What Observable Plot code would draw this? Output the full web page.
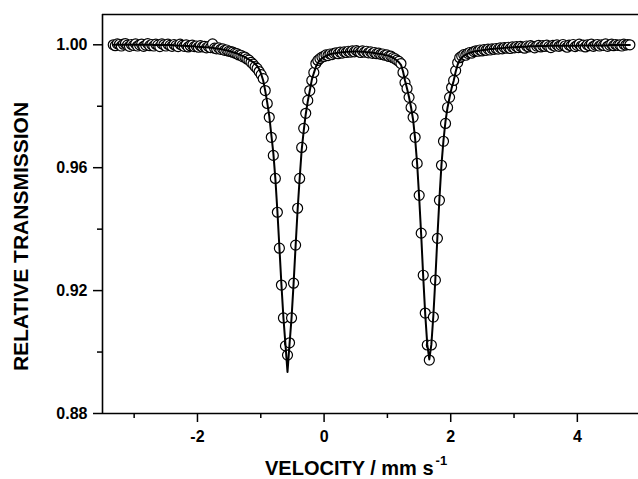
<!DOCTYPE html>
<html>
<head>
<meta charset="utf-8">
<script src="https://cdn.jsdelivr.net/npm/d3@7"></script>
<script src="https://cdn.jsdelivr.net/npm/@observablehq/plot@0.6"></script>
<style>
  html, body { margin: 0; padding: 0; background: #fff; overflow: hidden; }
  #chart { width: 638px; height: 479px; }
</style>
</head>
<body>
<div id="chart"></div>
<script>
// Velocity of each channel (mm/s)
const velocity = [
-3.330,-3.298,-3.266,-3.234,-3.202,-3.170,-3.138,-3.106,-3.074,-3.042,
-3.010,-2.978,-2.946,-2.914,-2.882,-2.850,-2.818,-2.786,-2.754,-2.722,
-2.690,-2.658,-2.626,-2.594,-2.562,-2.530,-2.498,-2.466,-2.434,-2.402,
-2.370,-2.338,-2.306,-2.274,-2.242,-2.210,-2.178,-2.146,-2.114,-2.082,
-2.050,-2.018,-1.986,-1.954,-1.922,-1.890,-1.858,-1.826,-1.794,-1.762,
-1.730,-1.698,-1.666,-1.634,-1.602,-1.570,-1.538,-1.506,-1.474,-1.442,
-1.410,-1.378,-1.346,-1.314,-1.282,-1.250,-1.218,-1.186,-1.154,-1.122,
-1.090,-1.058,-1.026,-0.994,-0.962,-0.930,-0.898,-0.866,-0.834,-0.802,
-0.770,-0.738,-0.706,-0.674,-0.642,-0.610,-0.578,-0.546,-0.514,-0.482,
-0.450,-0.418,-0.386,-0.354,-0.322,-0.290,-0.258,-0.226,-0.194,-0.162,
-0.130,-0.098,-0.066,-0.034,-0.002,0.030,0.062,0.094,0.126,0.158,
0.190,0.222,0.254,0.286,0.318,0.350,0.382,0.414,0.446,0.478,
0.510,0.542,0.574,0.606,0.638,0.670,0.702,0.734,0.766,0.798,
0.830,0.862,0.894,0.926,0.958,0.990,1.022,1.054,1.086,1.118,
1.150,1.182,1.214,1.246,1.278,1.310,1.342,1.374,1.406,1.438,
1.470,1.502,1.534,1.566,1.598,1.630,1.662,1.694,1.726,1.758,
1.790,1.822,1.854,1.886,1.918,1.950,1.982,2.014,2.046,2.078,
2.110,2.142,2.174,2.206,2.238,2.270,2.302,2.334,2.366,2.398,
2.430,2.462,2.494,2.526,2.558,2.590,2.622,2.654,2.686,2.718,
2.750,2.782,2.814,2.846,2.878,2.910,2.942,2.974,3.006,3.038,
3.070,3.102,3.134,3.166,3.198,3.230,3.262,3.294,3.326,3.358,
3.390,3.422,3.454,3.486,3.518,3.550,3.582,3.614,3.646,3.678,
3.710,3.742,3.774,3.806,3.838,3.870,3.902,3.934,3.966,3.998,
4.030,4.062,4.094,4.126,4.158,4.190,4.222,4.254,4.286,4.318,
4.350,4.382,4.414,4.446,4.478,4.510,4.542,4.574,4.606,4.638,
4.670,4.702,4.734,4.766,4.798,4.830
];

// Measured relative transmission (circles)
const transmission = [
1.0000,0.9997,1.0003,1.0001,0.9996,1.0002,1.0004,0.9999,0.9995,1.0001,
0.9998,1.0003,0.9996,1.0000,1.0002,0.9995,0.9999,1.0004,0.9997,1.0001,
0.9996,1.0002,0.9999,0.9994,1.0003,1.0000,0.9996,1.0002,0.9998,0.9995,
1.0001,0.9997,0.9994,1.0002,0.9998,0.9995,1.0000,0.9993,0.9997,0.9999,
0.9994,0.9996,0.9992,0.9997,0.9993,0.9995,0.9990,0.9994,0.9991,1.0003,
0.9989,0.9987,0.9990,0.9985,0.9987,0.9982,0.9983,0.9979,0.9978,0.9976,
0.9973,0.9971,0.9967,0.9966,0.9961,0.9960,0.9954,0.9950,0.9943,0.9937,
0.9929,0.9923,0.9913,0.9903,0.9890,0.9851,0.9809,0.9764,0.9699,0.9640,
0.9565,0.9455,0.9338,0.9218,0.9111,0.9020,0.8990,0.9030,0.9111,0.9224,
0.9348,0.9468,0.9565,0.9666,0.9728,0.9777,0.9819,0.9851,0.9884,0.9910,
0.9939,0.9949,0.9955,0.9960,0.9962,0.9967,0.9965,0.9970,0.9968,0.9972,
0.9974,0.9971,0.9976,0.9973,0.9977,0.9975,0.9979,0.9976,0.9980,0.9977,
0.9981,0.9978,0.9975,0.9980,0.9976,0.9979,0.9974,0.9977,0.9972,0.9975,
0.9971,0.9973,0.9969,0.9970,0.9966,0.9967,0.9962,0.9963,0.9958,0.9955,
0.9950,0.9946,0.9939,0.9910,0.9877,0.9858,0.9829,0.9796,0.9764,0.9699,
0.9614,0.9510,0.9387,0.9250,0.9127,0.9023,0.8974,0.9023,0.9114,0.9234,
0.9370,0.9494,0.9608,0.9686,0.9744,0.9796,0.9829,0.9861,0.9884,0.9916,
0.9942,0.9958,0.9963,0.9968,0.9966,0.9972,0.9975,0.9973,0.9978,0.9980,
0.9979,0.9983,0.9980,0.9984,0.9982,0.9986,0.9983,0.9987,0.9985,0.9988,
0.9986,0.9990,0.9987,0.9991,0.9989,0.9992,0.9988,0.9993,0.9990,0.9994,
0.9991,0.9995,0.9992,0.9989,0.9996,0.9993,0.9997,0.9994,0.9990,0.9996,
0.9998,0.9993,0.9997,0.9995,0.9999,0.9994,0.9991,0.9998,0.9996,1.0000,
0.9995,0.9998,1.0001,0.9996,0.9992,0.9999,0.9997,1.0001,0.9994,0.9998,
1.0002,0.9996,0.9999,0.9993,1.0000,0.9997,1.0002,0.9995,0.9999,1.0001,
0.9996,1.0000,0.9998,1.0003,0.9995,0.9999,1.0002,0.9997,1.0001,0.9998,
1.0000,0.9996,1.0002,0.9999,1.0001,1.0000
];

// Fitted curve (solid line)
const fit = [
1.0000,1.0000,1.0000,1.0000,1.0000,1.0000,1.0000,1.0000,1.0000,1.0000,
1.0000,1.0000,1.0000,1.0000,1.0000,1.0000,1.0000,1.0000,1.0000,1.0000,
0.9999,0.9999,0.9999,0.9999,0.9999,0.9999,0.9999,0.9999,0.9999,0.9999,
0.9998,0.9998,0.9998,0.9997,0.9997,0.9997,0.9996,0.9996,0.9995,0.9995,
0.9995,0.9994,0.9994,0.9993,0.9993,0.9992,0.9992,0.9991,0.9990,0.9990,
0.9989,0.9988,0.9987,0.9986,0.9985,0.9983,0.9982,0.9980,0.9978,0.9976,
0.9974,0.9972,0.9969,0.9966,0.9963,0.9960,0.9956,0.9952,0.9948,0.9944,
0.9938,0.9931,0.9921,0.9905,0.9884,0.9851,0.9812,0.9768,0.9708,0.9648,
0.9565,0.9460,0.9341,0.9220,0.9111,0.9024,0.8935,0.9026,0.9111,0.9222,
0.9345,0.9464,0.9565,0.9658,0.9720,0.9774,0.9816,0.9851,0.9886,0.9908,
0.9928,0.9941,0.9950,0.9956,0.9960,0.9964,0.9967,0.9969,0.9971,0.9972,
0.9973,0.9974,0.9975,0.9976,0.9976,0.9977,0.9977,0.9977,0.9978,0.9978,
0.9978,0.9978,0.9977,0.9977,0.9977,0.9976,0.9976,0.9975,0.9974,0.9973,
0.9972,0.9971,0.9970,0.9969,0.9967,0.9966,0.9964,0.9961,0.9958,0.9954,
0.9949,0.9943,0.9935,0.9914,0.9884,0.9858,0.9829,0.9796,0.9756,0.9694,
0.9612,0.9502,0.9380,0.9244,0.9121,0.9024,0.8976,0.9024,0.9119,0.9240,
0.9376,0.9500,0.9610,0.9690,0.9752,0.9796,0.9829,0.9859,0.9882,0.9912,
0.9936,0.9950,0.9958,0.9964,0.9968,0.9971,0.9974,0.9976,0.9978,0.9979,
0.9980,0.9981,0.9982,0.9983,0.9984,0.9985,0.9986,0.9986,0.9987,0.9988,
0.9988,0.9989,0.9989,0.9990,0.9990,0.9991,0.9991,0.9992,0.9992,0.9993,
0.9993,0.9993,0.9994,0.9994,0.9994,0.9995,0.9995,0.9995,0.9995,0.9996,
0.9996,0.9996,0.9996,0.9996,0.9996,0.9997,0.9997,0.9997,0.9997,0.9997,
0.9997,0.9997,0.9997,0.9997,0.9997,0.9997,0.9997,0.9997,0.9997,0.9997,
0.9998,0.9998,0.9998,0.9998,0.9998,0.9998,0.9998,0.9998,0.9998,0.9998,
0.9998,0.9998,0.9998,0.9998,0.9998,0.9999,0.9999,0.9999,0.9999,0.9999,
0.9999,0.9999,0.9999,0.9999,0.9999,0.9999
];

const xMajorTicks = [-2, 0, 2, 4];
const xMinorTicks = [-3, -1, 1, 3];
const yMajorTicks = [0.88, 0.92, 0.96, 1.00];
const yMinorTicks = [0.90, 0.94, 0.98];
const xDomain = [-3.5, 4.966];
const yDomain = [0.88, 1.00986];
const xLabel = "VELOCITY / mm s";
const xLabelSup = "-1";
const yLabel = "RELATIVE TRANSMISSION";

const table = velocity.map((v, i) => ({v, t: transmission[i], f: fit[i]}));
const font = "'Liberation Sans', Arial, Helvetica, sans-serif";

const svg = Plot.plot({
  width: 638,
  height: 479,
  marginLeft: 102,
  marginRight: 0,
  marginTop: 14,
  marginBottom: 66,
  style: {fontFamily: font, fontWeight: "bold", color: "#000", background: "#fff"},
  x: {domain: xDomain},
  y: {domain: yDomain},
  marks: [
    Plot.axisY(yMajorTicks, {tickSize: 9, tickPadding: 6, strokeWidth: 1.5, fontSize: 16, fontWeight: "bold",
      tickFormat: d => d.toFixed(2), label: null}),
    Plot.axisY(yMinorTicks, {tickSize: 5, strokeWidth: 1.5, tickFormat: () => "", label: null}),
    Plot.axisX(xMajorTicks, {tickSize: 9, tickPadding: 8, strokeWidth: 1.5, fontSize: 16, fontWeight: "bold",
      tickFormat: d => String(d), label: null}),
    Plot.axisX(xMinorTicks, {tickSize: 5, strokeWidth: 1.5, tickFormat: () => "", label: null}),
    Plot.ruleY([yDomain[0]], {stroke: "#000", strokeWidth: 1.6}),
    Plot.ruleY([yDomain[1]], {stroke: "#000", strokeWidth: 1.6}),
    Plot.ruleX([xDomain[0]], {stroke: "#000", strokeWidth: 1.6}),
    Plot.dot(table, {x: "v", y: "t", r: 5, fill: "white", stroke: "black", strokeWidth: 1.2}),
    Plot.line(table, {x: "v", y: "f", stroke: "black", strokeWidth: 2})
  ]
});

const s = d3.select(svg);
s.append("text")
  .attr("transform", "translate(28,236.5) rotate(-90)")
  .attr("text-anchor", "middle")
  .attr("font-family", font)
  .attr("font-weight", "bold")
  .attr("font-size", 21)
  .attr("fill", "#000")
  .text(yLabel);

const xl = s.append("text")
  .attr("x", 265)
  .attr("y", 475)
  .attr("text-anchor", "start")
  .attr("font-family", font)
  .attr("font-weight", "bold")
  .attr("font-size", 20)
  .attr("fill", "#000");
xl.append("tspan").text(xLabel);
xl.append("tspan").attr("dx", 2).attr("dy", -10).attr("font-size", 13).text(xLabelSup);

document.getElementById("chart").appendChild(svg);
</script>
</body>
</html>
